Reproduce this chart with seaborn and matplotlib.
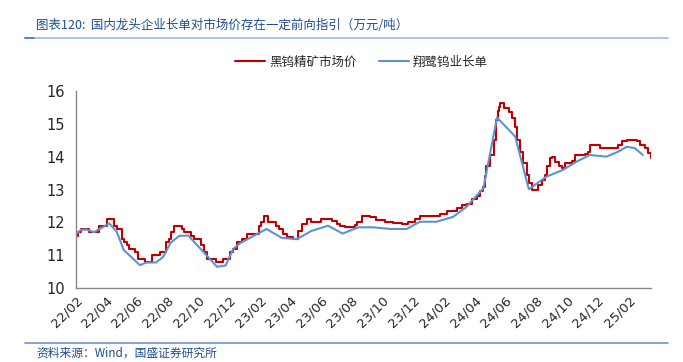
import pandas as pd
import matplotlib.pyplot as plt
import matplotlib.dates as mdates
from matplotlib.lines import Line2D
import seaborn as sns

# 黑钨精矿市场价（万元/吨），阶梯数据
red_dates = ['2022-02-01', '2022-02-06', '2022-02-12', '2022-02-27', '2022-03-19', '2022-04-04',
             '2022-04-18', '2022-04-23', '2022-05-03', '2022-05-07', '2022-05-13', '2022-05-18',
             '2022-05-30', '2022-06-05', '2022-06-18', '2022-07-03', '2022-07-18', '2022-07-30',
             '2022-08-04', '2022-08-09', '2022-08-15', '2022-08-30', '2022-09-04', '2022-09-17',
             '2022-09-24', '2022-10-08', '2022-10-14', '2022-10-19', '2022-11-06', '2022-11-20',
             '2022-12-03', '2022-12-09', '2022-12-18', '2022-12-27', '2023-01-06', '2023-01-30',
             '2023-02-03', '2023-02-09', '2023-02-16', '2023-03-05', '2023-03-11', '2023-03-18',
             '2023-03-27', '2023-04-07', '2023-04-17', '2023-04-25', '2023-05-05', '2023-05-14',
             '2023-06-03', '2023-06-23', '2023-07-03', '2023-07-10', '2023-07-19', '2023-08-08',
             '2023-08-13', '2023-08-22', '2023-09-07', '2023-09-20', '2023-10-07', '2023-10-23',
             '2023-11-09', '2023-11-21', '2023-12-05', '2023-12-15', '2024-01-24', '2024-02-06',
             '2024-02-26', '2024-03-07', '2024-03-17', '2024-03-27', '2024-04-06', '2024-04-12',
             '2024-04-18', '2024-04-22', '2024-04-25', '2024-05-02', '2024-05-09', '2024-05-14',
             '2024-05-17', '2024-05-19', '2024-05-22', '2024-05-29', '2024-06-08', '2024-06-14',
             '2024-06-21', '2024-06-25', '2024-06-30', '2024-07-07', '2024-07-14', '2024-07-19',
             '2024-07-24', '2024-08-06', '2024-08-13', '2024-08-19', '2024-08-23', '2024-08-28',
             '2024-09-02', '2024-09-08', '2024-09-15', '2024-09-21', '2024-09-28', '2024-10-11',
             '2024-10-18', '2024-11-06', '2024-11-13', '2024-11-16', '2024-12-06', '2025-01-11',
             '2025-01-18', '2025-01-28', '2025-02-17', '2025-02-23', '2025-03-05', '2025-03-12',
             '2025-03-17']
red_values = [11.6, 11.7, 11.8, 11.7, 11.9, 12.1,
              11.9, 11.8, 11.5, 11.4, 11.3, 11.2,
              11.1, 10.9, 10.8, 11.0, 11.1, 11.4,
              11.5, 11.7, 11.9, 11.8, 11.7, 11.6,
              11.5, 11.3, 11.1, 10.9, 10.8, 10.9,
              11.1, 11.2, 11.4, 11.5, 11.65, 11.9,
              12.0, 12.2, 12.0, 11.9, 11.8, 11.65,
              11.55, 11.5, 11.75, 11.95, 12.1, 12.0,
              12.1, 12.05, 11.95, 11.9, 11.85, 11.92,
              12.02, 12.2, 12.15, 12.07, 12.02, 11.97,
              11.94, 12.0, 12.09, 12.2, 12.27, 12.34,
              12.43, 12.53, 12.55, 12.7, 12.8, 12.95,
              13.08, 13.4, 13.7, 14.05, 14.5, 15.1,
              15.4, 15.5, 15.64, 15.47, 15.37, 15.17,
              14.91, 14.51, 14.15, 13.8, 13.44, 13.19,
              12.98, 13.14, 13.29, 13.44, 13.7, 13.95,
              14.0, 13.85, 13.7, 13.65, 13.8, 13.88,
              14.05, 14.07, 14.15, 14.36, 14.26, 14.36,
              14.46, 14.51, 14.46, 14.36, 14.26, 14.1,
              13.95]

# 翔鹭钨业长单（万元/吨）
blue_dates = ['2022-02-04', '2022-02-12', '2022-02-23', '2022-03-09', '2022-04-08', '2022-04-23',
              '2022-05-07', '2022-06-08', '2022-06-21', '2022-07-10', '2022-07-24', '2022-08-08',
              '2022-08-25', '2022-09-12', '2022-11-08', '2022-11-25', '2022-12-10', '2022-12-23',
              '2023-02-14', '2023-03-16', '2023-04-15', '2023-05-14', '2023-06-16', '2023-07-15',
              '2023-08-15', '2023-09-14', '2023-10-17', '2023-11-19', '2023-12-15', '2024-01-17',
              '2024-02-19', '2024-03-17', '2024-04-19', '2024-05-16', '2024-06-21', '2024-07-18',
              '2024-08-22', '2024-09-24', '2024-10-21', '2024-11-16', '2024-12-19', '2025-01-11',
              '2025-01-28', '2025-02-13', '2025-03-01']
blue_values = [11.68, 11.78, 11.78, 11.70, 11.97, 11.72,
               11.16, 10.70, 10.78, 10.78, 10.95, 11.38,
               11.59, 11.60, 10.65, 10.69, 11.19, 11.36,
               11.80, 11.53, 11.49, 11.74, 11.90, 11.66,
               11.85, 11.85, 11.80, 11.80, 12.02, 12.02,
               12.17, 12.48, 13.04, 15.19, 14.61, 13.01,
               13.39, 13.60, 13.85, 14.05, 14.00, 14.15,
               14.30, 14.26, 14.05]

red_df = pd.DataFrame({'date': pd.to_datetime(red_dates), 'value': red_values})
blue_df = pd.DataFrame({'date': pd.to_datetime(blue_dates), 'value': blue_values})

sns.set_style('white')
plt.rcParams['font.family'] = ['Noto Sans CJK SC', 'DejaVu Sans']
plt.rcParams['axes.unicode_minus'] = False

fig = plt.figure(figsize=(6.83, 3.62), dpi=100)
ax = fig.add_axes([0.111, 0.204, 0.842, 0.545])

sns.lineplot(data=red_df, x='date', y='value', ax=ax, color='#C00000', linewidth=1.5,
             drawstyle='steps-post', label='黑钨精矿市场价')
sns.lineplot(data=blue_df, x='date', y='value', ax=ax, color='#5B93D3', linewidth=1.5,
             label='翔鹭钨业长单')

ax.set_xlim(pd.Timestamp('2022-02-01'), pd.Timestamp('2025-03-17'))
ax.set_ylim(10, 16)
ax.set_xlabel('')
ax.set_ylabel('')
ax.xaxis.set_major_locator(mdates.MonthLocator(bymonth=[2, 4, 6, 8, 10, 12]))
ax.xaxis.set_major_formatter(mdates.DateFormatter('%y/%m'))
ax.tick_params(axis='both', direction='in', length=4, color='#888888', labelsize=9.5, pad=4)
for lab in ax.get_xticklabels():
    lab.set_rotation(45)
    lab.set_ha('right')
    lab.set_rotation_mode('anchor')
    lab.set_fontfamily('DejaVu Sans')
for lab in ax.get_yticklabels():
    lab.set_fontfamily('DejaVu Sans')
ax.tick_params(axis='y', labelsize=10.5, pad=8)

for s in ['top', 'right']:
    ax.spines[s].set_visible(False)
for s in ['left', 'bottom']:
    ax.spines[s].set_color('#888888')
    ax.spines[s].set_linewidth(1)

ax.legend(loc='center', bbox_to_anchor=(0.529, 0.828), bbox_transform=fig.transFigure,
          ncol=2, frameon=False, fontsize=9, handlelength=2.4, columnspacing=1.8,
          handletextpad=0.3)

# 标题与来源
fig.text(0.053, 1 - 25 / 362, '图表120:  国内龙头企业长单对市场价存在一定前向指引（万元/吨）',
         fontsize=9, color='#1F4E8C', style='italic', va='center', ha='left')
fig.add_artist(Line2D([25 / 683, 668 / 683], [1 - 38 / 362] * 2, color='#A9BFDF', lw=1.3))
fig.add_artist(Line2D([25 / 683, 34 / 683], [1 - 38 / 362] * 2, color='#4F7DBE', lw=1.3))
fig.add_artist(Line2D([25 / 683, 668 / 683], [1 - 343 / 362] * 2, color='#6E93CC', lw=1.2))
fig.text(0.053, 1 - 353 / 362, '资料来源：Wind，国盛证券研究所', fontsize=8.5, color='#1F4E8C',
         style='italic', va='center', ha='left')

fig.savefig('out.png', dpi=100)
